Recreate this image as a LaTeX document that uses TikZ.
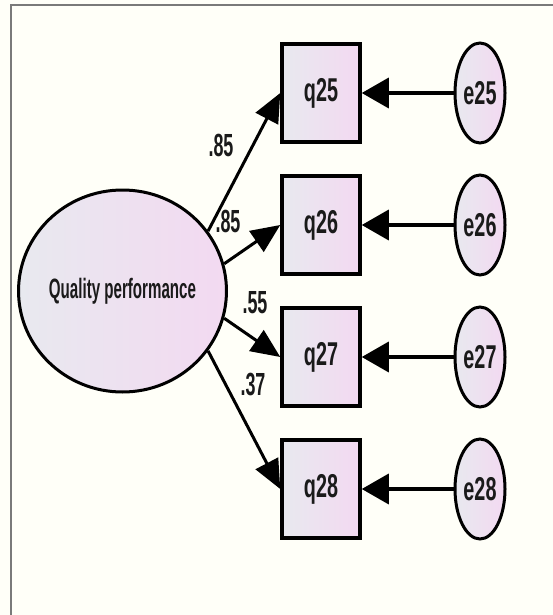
\documentclass[tikz,border=0pt]{standalone}
\usepackage{fontspec}
\setmainfont{Liberation Sans}
\usetikzlibrary{shapes.geometric,arrows.meta}
\definecolor{paper}{HTML}{FFFFF8}
\definecolor{frame}{HTML}{7A7A7A}
\definecolor{shadeL}{HTML}{E8E9EF}
\definecolor{shadeR}{HTML}{F3D9F1}
\definecolor{ink}{HTML}{1A1A1A}
% horizontally condensed text
\newcommand{\squeeze}[2]{\scalebox{#1}[1]{#2}}

\begin{document}
\begin{tikzpicture}[x=1pt,y=-1pt,
  indicator/.style={draw, line width=3.5pt, rectangle, minimum width=78pt,
    minimum height=98pt, inner sep=0pt, left color=shadeL, right color=shadeR,
    text=ink, font=\fontsize{33}{33}\selectfont\bfseries},
  errvar/.style={draw, line width=3pt, ellipse, minimum width=50pt,
    minimum height=100pt, inner sep=0pt, left color=shadeL, right color=shadeR,
    text=ink, font=\fontsize{33}{33}\selectfont\bfseries},
  latent/.style={draw, line width=3pt, ellipse, minimum width=155pt,
    minimum height=202pt, inner sep=0pt, left color=shadeL, right color=shadeR,
    text=ink, font=\fontsize{28}{28}\selectfont\bfseries},
  loading/.style={line width=3pt, -{Triangle[length=29pt,width=25pt]}},
  errpath/.style={line width=3.5pt, -{Triangle[length=27pt,width=30pt]}},
  coef/.style={text=ink, font=\fontsize{32}{32}\selectfont\bfseries, inner sep=0pt}
]
% page and frame
\useasboundingbox[fill=paper] (0,0) rectangle (553,615);
\draw[frame, line width=1.5pt] (11,615) -- (11,5) -- (553,5);

% latent factor
\node[latent] (QP) at (122.5,291) {\squeeze{0.54}{Quality performance}};

% observed indicators
\node[indicator] (q25) at (321,93)  {\squeeze{0.6}{q25}};
\node[indicator] (q26) at (321,225) {\squeeze{0.6}{q26}};
\node[indicator] (q27) at (321,357) {\squeeze{0.6}{q27}};
\node[indicator] (q28) at (321,489) {\squeeze{0.6}{q28}};

% error terms
\node[errvar] (e25) at (480,93)  {\squeeze{0.6}{e25}};
\node[errvar] (e26) at (480,225) {\squeeze{0.6}{e26}};
\node[errvar] (e27) at (480,357) {\squeeze{0.6}{e27}};
\node[errvar] (e28) at (480,489) {\squeeze{0.6}{e28}};

% factor loadings
\draw[loading] (QP.35)  -- (q25.west);
\draw[loading] (QP.15)  -- (q26.west);
\draw[loading] (QP.-15) -- (q27.west);
\draw[loading] (QP.-35) -- (q28.west);

% error paths
\draw[errpath] (e25.west) -- (q25.east);
\draw[errpath] (e26.west) -- (q26.east);
\draw[errpath] (e27.west) -- (q27.east);
\draw[errpath] (e28.west) -- (q28.east);

% standardized coefficients
\node[coef] (c25) at (221,145) {\squeeze{0.56}{.85}};
\node[coef] (c26) at (228,221) {\squeeze{0.56}{.85}};
\node[coef] (c27) at (255,303) {\squeeze{0.56}{.55}};
\node[coef] (c28) at (253,385) {\squeeze{0.56}{.37}};
\end{tikzpicture}
\end{document}
